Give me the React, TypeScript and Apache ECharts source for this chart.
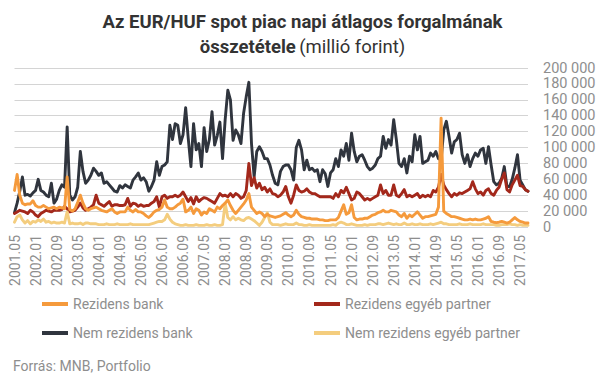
import React, { useEffect, useRef } from 'react';
import * as echarts from 'echarts';

// Monthly categories 2001.05 .. 2017.08
const categories: string[] = [];
for (let k = 0; k < 196; k++) {
  const m = 4 + k;
  const y = 2001 + Math.floor(m / 12);
  const mm = (m % 12) + 1;
  categories.push(`${y}.${String(mm).padStart(2, '0')}`);
}

const seriesNames = ['Rezidens bank', 'Rezidens egyéb partner', 'Nem rezidens bank', 'Nem rezidens egyéb partner'];

const rezidensBank = [
  46000, 66000, 40000, 30000, 28000, 29000, 29000, 33000, 27000, 25000,
  25000, 27000, 25000, 23000, 24000, 25000, 23000, 25000, 24000, 23000,
  63000, 22000, 20000, 23000, 31000, 40000, 30000, 23000, 21000, 23000,
  24000, 25000, 23000, 21000, 20000, 19000, 21000, 23000, 19000, 17000,
  19000, 19000, 19000, 25000, 21000, 19000, 22000, 19000, 19000, 17000,
  14000, 12000, 15000, 19000, 21000, 22000, 25000, 34000, 25000, 23000,
  23000, 25000, 28000, 30000, 35000, 19000, 21000, 25000, 17000, 23000,
  21000, 15000, 19000, 17000, 23000, 21000, 19000, 25000, 23000, 27000,
  30000, 34000, 27000, 21000, 17000, 21000, 25000, 29000, 34000, 42000,
  25000, 21000, 17000, 19000, 17000, 13000, 16000, 14000, 13000, 12000,
  13000, 14000, 16000, 18000, 15000, 13000, 15000, 21000, 16000, 13000,
  12000, 11000, 11000, 10000, 10000, 10000, 9000, 9000, 8000, 8000,
  9000, 9000, 9000, 12000, 20000, 28000, 16000, 18000, 28000, 12000,
  9000, 10000, 10000, 11000, 11000, 13000, 15000, 16000, 18000, 19000,
  21000, 19000, 19000, 21000, 20000, 19000, 15000, 13000, 17000, 11000,
  15000, 13000, 16000, 19000, 15000, 11000, 13000, 13000, 14000, 15000,
  16000, 25000, 137000, 20000, 17000, 15000, 13000, 13000, 12000, 11000,
  10000, 9000, 9000, 10000, 9000, 10000, 9000, 9000, 10000, 11000,
  13000, 7000, 6000, 5500, 6000, 7000, 6000, 5000, 6000, 9000,
  12000, 9000, 7000, 6000, 5000, 5000,
];

const rezidensEgyeb = [
  17000, 19000, 21000, 20000, 19000, 17000, 21000, 19000, 15000, 13000,
  17000, 19000, 21000, 20000, 19000, 21000, 21000, 21000, 22000, 26000,
  23000, 19000, 20000, 21000, 25000, 30000, 24000, 21000, 23000, 25000,
  28000, 40000, 30000, 28000, 26000, 29000, 32000, 26000, 28000, 28000,
  27000, 27000, 28000, 36000, 26000, 30000, 29000, 26000, 28000, 26000,
  27000, 27000, 30000, 32000, 38000, 25000, 38000, 40000, 36000, 38000,
  38000, 40000, 38000, 40000, 44000, 38000, 32000, 37000, 29000, 38000,
  32000, 35000, 37000, 36000, 34000, 32000, 30000, 36000, 42000, 39000,
  40000, 38000, 42000, 38000, 42000, 40000, 36000, 38000, 46000, 80000,
  52000, 62000, 49000, 55000, 47000, 50000, 44000, 48000, 42000, 41000,
  38000, 40000, 44000, 51000, 38000, 30000, 40000, 53000, 46000, 44000,
  45000, 48000, 44000, 42000, 42000, 40000, 38000, 38000, 38000, 38000,
  38000, 36000, 42000, 38000, 46000, 43000, 50000, 42000, 34000, 36000,
  44000, 42000, 38000, 34000, 36000, 34000, 36000, 38000, 40000, 53000,
  42000, 46000, 40000, 40000, 53000, 40000, 38000, 42000, 47000, 38000,
  40000, 38000, 40000, 42000, 37000, 40000, 38000, 40000, 38000, 46000,
  44000, 50000, 66000, 53000, 47000, 42000, 38000, 42000, 40000, 43000,
  42000, 44000, 46000, 48000, 57000, 48000, 42000, 44000, 40000, 46000,
  48000, 42000, 40000, 46000, 50000, 60000, 68000, 47000, 44000, 53000,
  59000, 65000, 52000, 51000, 47000, 45000,
];

const nemRezidensBank = [
  18000, 30000, 45000, 63000, 40000, 41000, 39000, 43000, 46000, 60000,
  46000, 44000, 40000, 38000, 55000, 30000, 35000, 46000, 53000, 50000,
  126000, 40000, 34000, 38000, 50000, 95000, 70000, 55000, 59000, 65000,
  74000, 70000, 65000, 68000, 55000, 57000, 53000, 49000, 45000, 44000,
  52000, 49000, 53000, 51000, 49000, 59000, 63000, 68000, 59000, 62000,
  57000, 45000, 51000, 59000, 82000, 65000, 76000, 78000, 82000, 128000,
  110000, 130000, 128000, 105000, 116000, 150000, 111000, 76000, 130000, 97000,
  105000, 76000, 125000, 95000, 110000, 145000, 103000, 115000, 132000, 86000,
  135000, 172000, 160000, 109000, 122000, 116000, 105000, 143000, 164000, 182000,
  105000, 63000, 95000, 101000, 95000, 86000, 86000, 78000, 65000, 55000,
  53000, 70000, 76000, 78000, 78000, 72000, 59000, 100000, 109000, 97000,
  72000, 84000, 72000, 74000, 70000, 72000, 57000, 72000, 67000, 51000,
  68000, 72000, 86000, 76000, 97000, 89000, 105000, 84000, 118000, 95000,
  82000, 89000, 91000, 84000, 76000, 72000, 74000, 78000, 86000, 89000,
  114000, 99000, 110000, 103000, 135000, 110000, 80000, 76000, 86000, 68000,
  89000, 82000, 116000, 97000, 114000, 80000, 82000, 84000, 93000, 89000,
  95000, 86000, 84000, 122000, 133000, 114000, 93000, 107000, 110000, 118000,
  91000, 80000, 91000, 76000, 86000, 93000, 89000, 97000, 99000, 80000,
  101000, 78000, 57000, 53000, 55000, 61000, 76000, 51000, 51000, 60000,
  74000, 91000, 59000, 53000, 47000, 45000,
];

const nemRezidensEgyeb = [
  6000, 13000, 15000, 9000, 5000, 8000, 4000, 7000, 6000, 9000,
  7000, 10000, 6000, 7000, 5000, 6000, 5000, 5000, 6000, 5000,
  19000, 4000, 5000, 4000, 4000, 5000, 3000, 5000, 5000, 4000,
  4000, 4000, 3000, 3000, 3000, 4000, 3000, 3000, 3000, 4000,
  3000, 3000, 3000, 3000, 4000, 3000, 3000, 3000, 3000, 3000,
  3000, 3000, 4000, 5000, 6000, 7000, 7000, 9000, 16000, 10000,
  6000, 4000, 3000, 2000, 2000, 3000, 2000, 2000, 2000, 3000,
  2000, 2000, 2000, 3000, 2000, 2000, 3000, 2000, 2000, 3000,
  30000, 12000, 9000, 13000, 9000, 11000, 9000, 8000, 11000, 12000,
  10000, 8000, 5000, 2000, 6000, 12000, 18000, 6000, 3000, 3000,
  3000, 2000, 3000, 4000, 3000, 3000, 3000, 5000, 3000, 3000,
  2000, 2000, 3000, 2000, 2000, 2000, 2000, 2000, 2000, 2000,
  2000, 3000, 2000, 5000, 6000, 5000, 3000, 3000, 4000, 3000,
  2000, 2000, 2000, 3000, 2000, 3000, 3000, 3000, 4000, 4000,
  3000, 4000, 5000, 4000, 3000, 4000, 3000, 3000, 5000, 3000,
  3000, 4000, 3000, 3000, 4000, 3000, 3000, 3000, 4000, 3000,
  4000, 5000, 6000, 4000, 4000, 3000, 3000, 3000, 3000, 4000,
  3000, 3000, 3000, 4000, 3000, 3000, 3000, 3000, 4000, 3000,
  3000, 3000, 3000, 2000, 2000, 3000, 3000, 3000, 4000, 3000,
  3000, 2000, 3000, 2000, 2000, 2000,
];

const colors = {
  orange: '#f59a3c',
  red: '#a3281b',
  dark: '#30353e',
  yellow: '#f4cd7e',
};

const FONT = 'Roboto, "Noto Sans", sans-serif';
const GRAY = '#8e8e8e';

function fmt(v: number) {
  return String(v).replace(/\B(?=(\d{3})+(?!\d))/g, ' ');
}

export default function App() {
  const ref = useRef<HTMLDivElement>(null);
  useEffect(() => {
    if (!ref.current) return;
    const chart = echarts.init(ref.current, null, { renderer: 'svg' });
    const legendBase = {
      icon: 'rect',
      itemWidth: 26,
      itemHeight: 4,
      padding: 0,
      textStyle: { fontSize: 14, color: GRAY, fontFamily: FONT },
    };
    const mkSeries = (name: string, data: number[], color: string, z: number) => ({
      name,
      type: 'line',
      data,
      color,
      symbol: 'none',
      z,
      lineStyle: { width: 2.9, color, join: 'round', cap: 'round' },
      itemStyle: { color },
    });
    chart.setOption({
      animation: false,
      textStyle: { fontFamily: FONT },
      grid: { left: 14.5, right: 77, top: 68, bottom: 152, containLabel: false },
      xAxis: {
        type: 'category',
        data: categories,
        boundaryGap: false,
        axisLine: { show: false },
        axisTick: { show: false },
        splitLine: { show: false },
        axisLabel: {
          interval: 7,
          rotate: 90,
          margin: 8,
          fontSize: 14,
          color: GRAY,
          fontFamily: FONT,
        },
      },
      yAxis: {
        type: 'value',
        position: 'right',
        min: 0,
        max: 200000,
        interval: 20000,
        axisLine: { show: false },
        axisTick: { show: false },
        splitLine: { show: true, lineStyle: { color: '#d4d4d4', width: 1 } },
        axisLabel: {
          margin: 15,
          fontSize: 14.5,
          color: GRAY,
          fontFamily: FONT,
          formatter: (v: number) => fmt(v),
        },
      },
      legend: [
        { ...legendBase, data: [seriesNames[0]], left: 42, top: 297 },
        { ...legendBase, data: [seriesNames[1]], left: 314, top: 297 },
        { ...legendBase, data: [seriesNames[2]], left: 42, top: 326 },
        { ...legendBase, data: [seriesNames[3]], left: 314, top: 326 },
      ],
      graphic: [
        {
          type: 'text',
          x: 302.5,
          y: 22,
          style: {
            text: 'Az EUR/HUF spot piac napi átlagos forgalmának',
            fontFamily: FONT,
            fontSize: 18.5,
            fontWeight: 'bold',
            fill: '#333333',
            align: 'center',
            verticalAlign: 'middle',
          },
        },
        {
          type: 'text',
          x: 302.5,
          y: 46.5,
          style: {
            text: '{b|összetétele} {n|(millió forint)}',
            align: 'center',
            verticalAlign: 'middle',
            rich: {
              b: { fontFamily: FONT, fontSize: 18.5, fontWeight: 'bold', fill: '#333333', color: '#333333' },
              n: { fontFamily: FONT, fontSize: 18.5, fontWeight: 'normal', fill: '#333333', color: '#333333' },
            },
          },
        },
        {
          type: 'text',
          x: 13,
          y: 366,
          style: {
            text: 'Forrás: MNB, Portfolio',
            fontFamily: FONT,
            fontSize: 14,
            fill: GRAY,
            align: 'left',
            verticalAlign: 'middle',
          },
        },
      ],
      series: [
        mkSeries(seriesNames[2], nemRezidensBank, colors.dark, 2),
        mkSeries(seriesNames[1], rezidensEgyeb, colors.red, 3),
        mkSeries(seriesNames[3], nemRezidensEgyeb, colors.yellow, 4),
        mkSeries(seriesNames[0], rezidensBank, colors.orange, 5),
      ],
    });
    return () => chart.dispose();
  }, []);
  return (
    <div
      ref={ref}
      style={{ position: 'absolute', left: 0, top: 0, width: 605, height: 379, background: '#fff' }}
    />
  );
}
